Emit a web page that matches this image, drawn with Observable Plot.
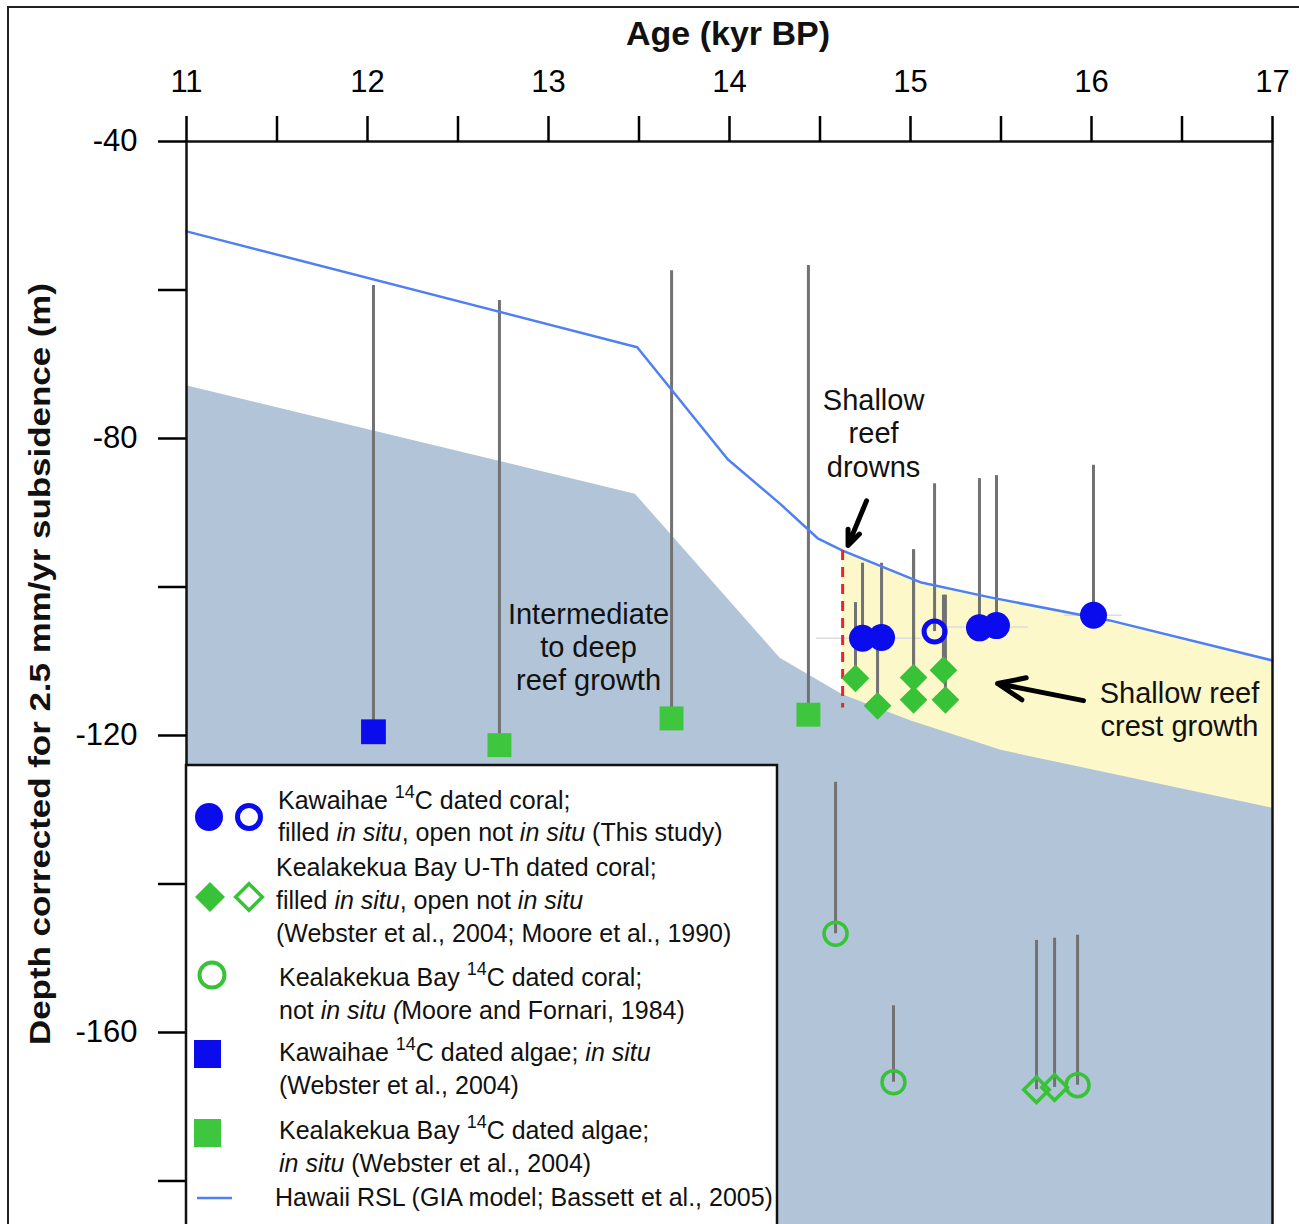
<!DOCTYPE html>
<html><head><meta charset="utf-8">
<script src="https://cdn.jsdelivr.net/npm/d3@7"></script>
<script src="https://cdn.jsdelivr.net/npm/@observablehq/plot@0.6"></script>
<style>
html,body{margin:0;padding:0;background:#fff;}
#wrap{position:relative;width:1299px;height:1224px;overflow:hidden;background:#fff;}
#wrap svg{position:absolute;left:0;top:0;}
#border{position:absolute;left:7px;top:6px;width:1400px;height:1400px;border-top:2.5px solid #222;border-left:2.5px solid #222;pointer-events:none;z-index:2;}
</style></head><body><div id="wrap"></div>
<script>
// ---------- axis ticks ----------
const xTicks = [11, 11.5, 12, 12.5, 13, 13.5, 14, 14.5, 15, 15.5, 16, 16.5, 17];
const xTickLabels = [11, 12, 13, 14, 15, 16, 17];
const yTicks = [-180, -160, -140, -120, -100, -80, -60, -40];
const yTickLabels = [-160, -120, -80, -40];
const yMin = -185.86, yMax = -40;

// ---------- Hawaii RSL (GIA model) ----------
const rslAge = [11, 13.49, 13.99, 14.28, 14.49, 14.625, 15.06, 15.44, 16.1, 17];
const rslDepth = [-52.1, -67.7, -82.8, -88.8, -93.5, -95.1, -99.4, -101.4, -104.5, -109.9];

// ---------- intermediate-to-deep reef surface (grey field top) ----------
const deepAge = [11, 13.48, 14.28, 14.625, 15.0, 15.5, 17];
const deepDepth = [-72.9, -87.5, -109.6, -114.5, -118.0, -122.0, -129.8];

// reef drowning age
const drownAge = [14.625];
const drownTop = [-95.1];
const drownBottom = [-116.3];

// ---------- samples ----------
// Kawaihae 14C coral, in situ (filled blue circles)
const kawCoralAge = [14.735, 14.84, 15.381, 15.475, 16.011];
const kawCoralDepth = [-106.9, -106.8, -105.5, -105.2, -103.8];
const kawCoralTop = [-96.8, -96.8, -85.4, -85.0, -83.6];
// Kawaihae 14C coral, not in situ (open blue circle)
const kawCoralOpenAge = [15.133];
const kawCoralOpenDepth = [-106.0];
const kawCoralOpenTop = [-86.1];
// Kealakekua Bay U-Th coral, in situ (filled green diamonds)
const kbUThAge = [14.696, 14.818, 15.017, 15.017, 15.182, 15.193];
const kbUThDepth = [-112.3, -116.0, -112.2, -115.2, -111.2, -115.2];
const kbUThTop = [-102.1, -105.9, -95.0, -95.0, -101.1, -101.1];
// Kealakekua Bay U-Th coral, not in situ (open green diamonds)
const kbUThOpenAge = [15.696, 15.796];
const kbUThOpenDepth = [-167.7, -167.4];
const kbUThOpenTop = [-147.6, -147.3];
// Kealakekua Bay 14C coral, not in situ (open green circles)
const kb14CAge = [14.586, 14.906, 15.923];
const kb14CDepth = [-146.7, -166.7, -167.1];
const kb14CTop = [-126.3, -156.4, -146.9];
// Kawaihae 14C algae (blue square)
const kawAlgaeAge = [12.033];
const kawAlgaeDepth = [-119.5];
const kawAlgaeTop = [-59.4];
// Kealakekua Bay 14C algae (green squares)
const kbAlgaeAge = [12.729, 13.68, 14.436];
const kbAlgaeDepth = [-121.3, -117.7, -117.2];
const kbAlgaeTop = [-61.4, -57.4, -56.7];

// faint age error bars
const errAgeLo = [14.48, 15.2, 15.85];
const errAgeHi = [15.06, 15.65, 16.17];
const errDepth = [-106.9, -105.4, -103.8];

// ---------- annotations ----------
const noteText = ["Shallow\nreef\ndrowns", "Intermediate\nto deep\nreef growth", "Shallow reef\ncrest growth"];
const noteAge = [14.796, 13.221, 16.486];
const noteDepth = [-79.2, -108.0, -116.4];
const arrowAge1 = [14.757, 15.956];
const arrowDepth1 = [-88.4, -115.3];
const arrowAge2 = [14.655, 15.481];
const arrowDepth2 = [-94.4, -113.0];

// ---------- build tables ----------
const tbl = (a, d, t) => a.map((v, i) => ({age: v, depth: d[i], top: t ? t[i] : undefined}));
const rsl = tbl(rslAge, rslDepth);
const yellow = rsl.filter(d => d.age >= drownAge[0]);
const deep = tbl(deepAge, deepDepth);
const kawCoral = tbl(kawCoralAge, kawCoralDepth, kawCoralTop);
const kawCoralOpen = tbl(kawCoralOpenAge, kawCoralOpenDepth, kawCoralOpenTop);
const kbUTh = tbl(kbUThAge, kbUThDepth, kbUThTop);
const kbUThOpen = tbl(kbUThOpenAge, kbUThOpenDepth, kbUThOpenTop);
const kb14C = tbl(kb14CAge, kb14CDepth, kb14CTop);
const kawAlgae = tbl(kawAlgaeAge, kawAlgaeDepth, kawAlgaeTop);
const kbAlgae = tbl(kbAlgaeAge, kbAlgaeDepth, kbAlgaeTop);
const stems = [...kawAlgae, ...kbAlgae, ...kbUTh, ...kawCoral, ...kawCoralOpen, ...kbUThOpen, ...kb14C];
const errBars = errDepth.map((d, i) => ({depth: d, a1: errAgeLo[i], a2: errAgeHi[i]}));
const drown = drownAge.map((a, i) => ({age: a, y1: drownTop[i], y2: drownBottom[i]}));
const notes = noteText.map((t, i) => ({text: t, age: noteAge[i], depth: noteDepth[i]}));
const arrows = arrowAge1.map((a, i) => ({x1: a, y1: arrowDepth1[i], x2: arrowAge2[i], y2: arrowDepth2[i]}));

const BLUE = "#0a0cee", GREEN = "#38c238", LINE = "#4f80f2";

const plot = Plot.plot({
  width: 1299, height: 1224,
  marginLeft: 186, marginRight: 27, marginTop: 141, marginBottom: 0,
  x: {domain: [11, 17]},
  y: {domain: [yMin, yMax]},
  style: {fontFamily: "'Liberation Sans', Arial, sans-serif", background: "white", color: "black", overflow: "visible"},
  marks: [
    Plot.areaY(yellow, {x: "age", y1: yMin, y2: "depth", fill: "#fcf8c9"}),
    Plot.areaY(deep, {x: "age", y1: yMin, y2: "depth", fill: "#b1c4d8"}),
    Plot.ruleY(errBars, {y: "depth", x1: "a1", x2: "a2", stroke: "#dcdcdc", strokeWidth: 1.5}),
    Plot.ruleX(stems, {x: "age", y1: "top", y2: "depth", stroke: "#727272", strokeWidth: 3}),
    Plot.line(rsl, {x: "age", y: "depth", stroke: LINE, strokeWidth: 2.5}),
    Plot.ruleX(drown, {x: "age", y1: "y1", y2: "y2", stroke: "#e8262a", strokeWidth: 3, strokeDasharray: "10,7"}),
    Plot.dot(kawAlgae, {x: "age", y: "depth", symbol: "square", r: 14, fill: BLUE}),
    Plot.dot(kbAlgae, {x: "age", y: "depth", symbol: "square", r: 13.5, fill: "#3ec63e"}),
    Plot.dot(kb14C, {x: "age", y: "depth", symbol: "circle", r: 11.5, fill: "none", stroke: GREEN, strokeWidth: 3.5}),
    Plot.dot(kbUThOpen, {x: "age", y: "depth", symbol: "diamond2", r: 11.5, fill: "none", stroke: GREEN, strokeWidth: 3.5}),
    Plot.dot(kbUTh, {x: "age", y: "depth", symbol: "diamond2", r: 12.5, fill: GREEN}),
    Plot.dot(kawCoral, {x: "age", y: "depth", symbol: "circle", r: 13.5, fill: BLUE}),
    Plot.dot(kawCoralOpen, {x: "age", y: "depth", symbol: "circle", r: 10.5, fill: "none", stroke: BLUE, strokeWidth: 5}),
    Plot.text(notes, {x: "age", y: "depth", text: "text", fontSize: 29, lineHeight: 1.15, fill: "#111"}),
    Plot.arrow(arrows, {x1: "x1", y1: "y1", x2: "x2", y2: "y2", stroke: "black", strokeWidth: 5, headLength: 22, headAngle: 45, strokeLinejoin: "miter"}),
    Plot.ruleY([yMax], {stroke: "#111", strokeWidth: 2.5}),
    Plot.ruleX([11, 17], {stroke: "#111", strokeWidth: 2.5}),
    Plot.axisX(xTicks, {anchor: "top", tickSize: 26, tickPadding: 24, strokeWidth: 2.5, fontSize: 31, label: null,
      tickFormat: d => xTickLabels.includes(d) ? String(d) : ""}),
    Plot.axisY(yTicks, {anchor: "left", tickSize: 28, tickPadding: 21, strokeWidth: 2.5, fontSize: 31, label: null,
      tickFormat: d => yTickLabels.includes(d) ? String(d) : ""})
  ]
});

const svg = d3.select(plot);
// axis titles
svg.append("text").attr("x", 728).attr("y", 45).attr("text-anchor", "middle")
  .attr("font-size", 34).attr("font-weight", "bold").attr("fill", "#111").text("Age (kyr BP)");
svg.append("text").attr("transform", "translate(39,664) rotate(-90)").attr("text-anchor", "middle")
  .attr("dominant-baseline", "central").attr("font-size", 30).attr("font-weight", "bold").attr("fill", "#111")
  .attr("textLength", 762).attr("lengthAdjust", "spacingAndGlyphs")
  .text("Depth corrected for 2.5 mm/yr subsidence (m)");

// legend
const lg = svg.append("g").attr("font-size", 25).attr("fill", "#111").attr("text-anchor", "start");
lg.append("rect").attr("x", 186).attr("y", 765).attr("width", 591).attr("height", 520)
  .attr("fill", "white").attr("stroke", "#111").attr("stroke-width", 2.5);

const legendLines = [
  {x: 278, y: 800, parts: [["Kawaihae "], ["14", "s"], ["C dated coral;"]]},
  {x: 278, y: 832, parts: [["filled "], ["in situ", "i"], [", open not "], ["in situ", "i"], [" (This study)"]]},
  {x: 276, y: 867, parts: [["Kealakekua Bay U-Th dated coral;"]]},
  {x: 276, y: 900, parts: [["filled "], ["in situ", "i"], [", open not "], ["in situ", "i"]]},
  {x: 276, y: 933, parts: [["(Webster et al., 2004; Moore et al., 1990)"]]},
  {x: 279, y: 977, parts: [["Kealakekua Bay "], ["14", "s"], ["C dated coral;"]]},
  {x: 279, y: 1010, parts: [["not "], ["in situ (", "i"], ["Moore and Fornari, 1984)"]]},
  {x: 279, y: 1052, parts: [["Kawaihae "], ["14", "s"], ["C dated algae; "], ["in situ", "i"]]},
  {x: 279, y: 1085, parts: [["(Webster et al., 2004)"]]},
  {x: 279, y: 1130, parts: [["Kealakekua Bay "], ["14", "s"], ["C dated algae;"]]},
  {x: 279, y: 1163, parts: [["in situ", "i"], [" (Webster et al., 2004)"]]},
  {x: 275, y: 1197, parts: [["Hawaii RSL (GIA model; Bassett et al., 2005)"]]}
];
for (const ln of legendLines) {
  const t = lg.append("text").attr("x", ln.x).attr("y", ln.y + 9).attr("text-anchor", "start");
  let raised = false;
  for (const [s, st] of ln.parts) {
    const ts = t.append("tspan").text(s);
    if (st === "s") { ts.attr("dy", -11).attr("font-size", 18); raised = true; }
    else if (raised) { ts.attr("dy", 11); raised = false; }
    if (st === "i") ts.attr("font-style", "italic");
  }
}
// legend symbols
const sym = (type, size) => d3.symbol(type, size)();
lg.append("circle").attr("cx", 209).attr("cy", 817).attr("r", 14).attr("fill", BLUE);
lg.append("circle").attr("cx", 249).attr("cy", 817).attr("r", 11.5).attr("fill", "none").attr("stroke", BLUE).attr("stroke-width", 5);
lg.append("path").attr("d", sym(d3.symbolDiamond2, Math.PI * 13.5 * 13.5)).attr("transform", "translate(210,897)").attr("fill", GREEN);
lg.append("path").attr("d", sym(d3.symbolDiamond2, Math.PI * 12 * 12)).attr("transform", "translate(249,897)").attr("fill", "none").attr("stroke", GREEN).attr("stroke-width", 3.5);
lg.append("circle").attr("cx", 212).attr("cy", 975).attr("r", 12.5).attr("fill", "none").attr("stroke", GREEN).attr("stroke-width", 4);
lg.append("rect").attr("x", 194).attr("y", 1040).attr("width", 27).attr("height", 28).attr("fill", BLUE);
lg.append("rect").attr("x", 194).attr("y", 1119).attr("width", 27).attr("height", 28).attr("fill", "#3ec63e");
lg.append("line").attr("x1", 197).attr("x2", 232).attr("y1", 1198).attr("y2", 1198).attr("stroke", LINE).attr("stroke-width", 2.5);

const wrap = document.getElementById("wrap");
wrap.appendChild(plot);
const b = document.createElement("div"); b.id = "border"; wrap.appendChild(b);
</script>
</body></html>
